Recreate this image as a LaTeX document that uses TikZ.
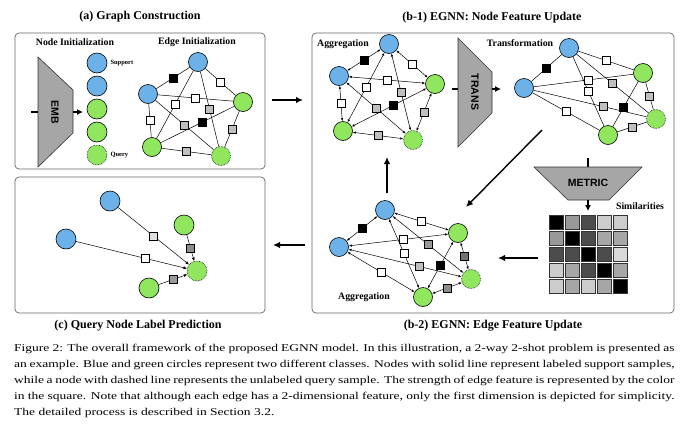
\documentclass[tikz,border=0pt]{standalone}
\usepackage{fontspec}
\usepackage{graphicx}
\setmainfont{Liberation Serif}
\newfontfamily\arialfont{Liberation Sans}
\usetikzlibrary{arrows.meta,positioning}
\definecolor{nodeblue}{HTML}{6CB2E8}
\definecolor{nodegreen}{HTML}{90E65E}
\newcommand{\capline}[1]{\makebox[508pt][s]{#1}}
\tikzstyle{bluenode}=[circle, draw, fill=nodeblue, minimum size=19pt, inner sep=0pt, line width=0.6pt]
\tikzstyle{greennode}=[circle, draw, fill=nodegreen, minimum size=19pt, inner sep=0pt, line width=0.6pt]
\tikzstyle{querynode}=[circle, draw, densely dotted, fill=nodegreen, minimum size=19pt, inner sep=0pt, line width=0.6pt]
\tikzstyle{whitesq}=[rectangle, draw, fill=white, minimum size=8pt, inner sep=0pt, line width=0.5pt, solid]
\tikzstyle{blacksq}=[whitesq, fill=black]
\tikzstyle{graysq}=[whitesq, fill=black!25]
\tikzstyle{plainedge}=[line width=0.5pt]
\tikzstyle{aggedge}=[{Latex[length=3pt,width=2.4pt]}-{Latex[length=3pt,width=2.4pt]}, line width=0.5pt]
\tikzstyle{prededge}=[-{Latex[length=3.5pt,width=3pt]}, line width=0.5pt]
\tikzstyle{panel}=[draw=black!60, rounded corners=4pt, line width=0.7pt]
\tikzstyle{trapblock}=[draw=black!80, fill=black!35, line width=0.6pt]
\tikzstyle{blocktext}=[font=\arialfont\bfseries\fontsize{10.5}{12}\selectfont, inner sep=0pt]
\tikzstyle{paneltitle}=[font=\bfseries\fontsize{12}{14}\selectfont]
\tikzstyle{subtitle}=[font=\bfseries\fontsize{9.8}{12}\selectfont, inner sep=0pt]
\tikzstyle{tinylabel}=[font=\bfseries\fontsize{6.5}{8}\selectfont, inner sep=0pt]
\tikzstyle{midarrow}=[-{Latex[length=6pt,width=6pt]}, line width=1.1pt]
\tikzstyle{bigarrow}=[-{Latex[length=7pt,width=6.5pt]}, line width=1.4pt]
\tikzstyle{caption}=[inner sep=0pt, align=left]

\begin{document}
\begin{tikzpicture}[x=1pt, y=-1pt, every node/.style={font=\normalsize}]
\path[use as bounding box] (0,0) rectangle (697,429);

% panels and titles
\draw[panel] (15,33) rectangle (265,169);
\draw[panel] (15,177) rectangle (265,313);
\draw[panel] (312,33) rectangle (674,313);
\node[paneltitle] (title-a) at (140,17) {(a) Graph Construction};
\node[paneltitle] (title-b1) at (492,18) {(b-1) EGNN: Node Feature Update};
\node[paneltitle] (title-c) at (138,326) {(c) Query Node Label Prediction};
\node[paneltitle] (title-b2) at (493,326) {(b-2) EGNN: Edge Feature Update};

%% (a) node initialization
\node[subtitle] (lbl-node) at (75,42) {Node Initialization};
\node[subtitle] (lbl-edge) at (197,42) {Edge Initialization};
\draw[trapblock] (38,57) -- (73,90) -- (73,133) -- (38,167) -- cycle;
\node[blocktext, rotate=-90] (emb) at (55,112) {EMB};
\coordinate (emb-in) at (31,112);
\coordinate (emb-w) at (38,112);
\coordinate (emb-e) at (73,112);
\coordinate (emb-out) at (83,112);
\draw[line width=1.1pt] (emb-in) -- (emb-w);
\draw[midarrow] (emb-e) -- (emb-out);

\node[bluenode, minimum size=20pt] (init1) at (97,63) {};
\node[bluenode, minimum size=20pt] (init2) at (97,86) {};
\node[greennode, minimum size=20pt] (init3) at (97,109) {};
\node[greennode, minimum size=20pt] (init4) at (97,132) {};
\node[querynode, minimum size=20pt] (init5) at (97,155) {};
\node[tinylabel, right=3pt of init1] (lbl-sup) {Support};
\node[tinylabel, right=3pt of init5] (lbl-qry) {Query};

%% (a) edge initialization
\node[bluenode] (a-t) at (198,62) {};
\node[bluenode] (a-l) at (148,94) {};
\node[greennode] (a-r) at (243,102) {};
\node[greennode] (a-bl) at (152,147) {};
\node[querynode] (a-br) at (221,156) {};
\draw[plainedge] (a-t) -- node[blacksq] {} (a-l);
\draw[plainedge] (a-t) -- node[whitesq] {} (a-r);
\draw[plainedge] (a-l) -- node[whitesq] {} (a-r);
\draw[plainedge] (a-t) -- node[whitesq] {} (a-bl);
\draw[plainedge] (a-t) -- node[graysq] {} (a-br);
\draw[plainedge] (a-l) -- node[whitesq] {} (a-bl);
\draw[plainedge] (a-l) -- node[graysq] {} (a-br);
\draw[plainedge] (a-bl) -- node[blacksq, pos=0.56] {} (a-r);
\draw[plainedge] (a-r) -- node[graysq] {} (a-br);
\draw[plainedge] (a-bl) -- node[graysq] {} (a-br);

\coordinate (a-out) at (272,100);
\coordinate (b-in) at (303,100);
\draw[bigarrow] (a-out) -- (b-in);

%% (b-1) aggregation
\node[subtitle] (lbl-agg1) at (343,44) {Aggregation};
\node[bluenode] (b1-t) at (389,44) {};
\node[bluenode] (b1-l) at (339,76) {};
\node[greennode] (b1-r) at (435,84) {};
\node[greennode] (b1-bl) at (343,131) {};
\node[querynode] (b1-br) at (413,140) {};
\draw[aggedge] (b1-t) -- node[blacksq] {} (b1-l);
\draw[aggedge] (b1-t) -- node[whitesq] {} (b1-r);
\draw[aggedge] (b1-l) -- node[whitesq] {} (b1-r);
\draw[aggedge] (b1-t) -- node[whitesq] {} (b1-bl);
\draw[aggedge] (b1-t) -- node[graysq] {} (b1-br);
\draw[aggedge] (b1-l) -- node[whitesq] {} (b1-bl);
\draw[aggedge] (b1-l) -- node[graysq] {} (b1-br);
\draw[aggedge] (b1-bl) -- node[blacksq, pos=0.56] {} (b1-r);
\draw[aggedge] (b1-r) -- node[graysq] {} (b1-br);
\draw[aggedge] (b1-bl) -- node[graysq] {} (b1-br);

%% (b-1) transformation
\draw[trapblock] (458,38) -- (492,72) -- (492,113) -- (458,147) -- cycle;
\node[blocktext, rotate=-90] (trans) at (475,92) {TRANS};
\coordinate (trans-in) at (452,89);
\coordinate (trans-w) at (458,89);
\coordinate (trans-e) at (492,89);
\coordinate (trans-out) at (501,89);
\draw[line width=1.1pt] (trans-in) -- (trans-w);
\draw[midarrow] (trans-e) -- (trans-out);

\node[subtitle] (lbl-trans) at (520,43) {Transformation};
\node[bluenode] (tr-t) at (569,48) {};
\node[bluenode] (tr-l) at (524,88) {};
\node[greennode] (tr-r) at (643,73) {};
\node[querynode] (tr-br) at (656,119) {};
\node[greennode] (tr-b) at (608,135) {};
\draw[plainedge] (tr-t) -- node[blacksq] {} (tr-l);
\draw[plainedge] (tr-t) -- node[whitesq] {} (tr-r);
\draw[plainedge] (tr-l) -- node[whitesq, pos=0.55] {} (tr-r);
\draw[plainedge] (tr-t) -- node[whitesq] {} (tr-b);
\draw[plainedge] (tr-t) -- node[graysq] {} (tr-br);
\draw[plainedge] (tr-l) -- node[whitesq] {} (tr-b);
\draw[plainedge] (tr-l) -- node[graysq, pos=0.62] {} (tr-br);
\draw[plainedge] (tr-b) -- node[blacksq, pos=0.43] {} (tr-r);
\draw[plainedge] (tr-r) -- node[graysq] {} (tr-br);
\draw[plainedge] (tr-b) -- node[graysq] {} (tr-br);

\coordinate (diag-from) at (542,130);
\coordinate (diag-to) at (466,207);
\draw[bigarrow] (diag-from) -- (diag-to);

%% metric and similarities
\coordinate (metric-in) at (588,158);
\coordinate (metric-n) at (588,167);
\draw[line width=1.1pt] (metric-in) -- (metric-n);
\draw[trapblock] (534,167) -- (642,167) -- (609,200) -- (568,200) -- cycle;
\node[blocktext] (metric) at (588,183) {METRIC};
\coordinate (metric-s) at (588,200);
\coordinate (metric-out) at (588,211);
\draw[midarrow] (metric-s) -- (metric-out);
\node[subtitle] (lbl-sim) at (640,206) {Similarities};

\foreach \r/\vals in {1/{100,40,70,20,20}, 2/{40,100,70,35,35}, 3/{70,70,100,70,15}, 4/{20,35,70,100,35}, 5/{20,35,20,35,100}} {
  \foreach \v [count=\c] in \vals {
    \node[rectangle, draw=black!80, line width=0.4pt, fill=black!\v, minimum size=14pt, inner sep=0pt] (sim-\r-\c) at (540+16*\c, 206+16*\r) {};
  }
}
\coordinate (sim-out) at (538,258);
\coordinate (b2-in) at (498,258);
\draw[bigarrow] (sim-out) -- (b2-in);

%% (b-2) aggregation
\node[bluenode] (b2-t) at (385,210) {};
\node[bluenode] (b2-l) at (339,247) {};
\node[greennode] (b2-r) at (458,233) {};
\node[querynode] (b2-br) at (471,279) {};
\node[greennode] (b2-b) at (423,297) {};
\node[subtitle] (lbl-agg2) at (364,297) {Aggregation};
\draw[aggedge] (b2-t) -- node[blacksq] {} (b2-l);
\draw[aggedge] (b2-t) -- node[whitesq] {} (b2-r);
\draw[aggedge] (b2-l) -- node[whitesq, pos=0.55] {} (b2-r);
\draw[aggedge] (b2-t) -- node[whitesq] {} (b2-b);
\draw[aggedge] (b2-t) -- node[graysq, fill=black!40] {} (b2-br);
\draw[aggedge] (b2-l) -- node[whitesq] {} (b2-b);
\draw[aggedge] (b2-l) -- node[graysq, pos=0.63] {} (b2-br);
\draw[aggedge] (b2-b) -- node[blacksq] {} (b2-r);
\draw[aggedge] (b2-r) -- node[graysq, fill=black!55] {} (b2-br);
\draw[aggedge] (b2-b) -- node[graysq, fill=black!45] {} (b2-br);

\coordinate (b2-up) at (387,193);
\coordinate (b1-down) at (387,157);
\draw[bigarrow] (b2-up) -- (b1-down);

\coordinate (b-out) at (305,245);
\coordinate (c-in) at (273,245);
\draw[bigarrow] (b-out) -- (c-in);

%% (c) query node label prediction
\node[bluenode, minimum size=20pt] (c-b1) at (110,201) {};
\node[bluenode, minimum size=20pt] (c-b2) at (66,239) {};
\node[greennode, minimum size=20pt] (c-g1) at (184,225) {};
\node[querynode, minimum size=20pt] (c-q) at (197,271) {};
\node[greennode, minimum size=20pt] (c-g2) at (149,288) {};
\draw[prededge] (c-b1) -- node[graysq, fill=black!12] {} (c-q);
\draw[prededge] (c-b2) -- node[whitesq, pos=0.62] {} (c-q);
\draw[prededge] (c-g1) -- node[graysq, fill=black!45] {} (c-q);
\draw[prededge] (c-g2) -- node[graysq, fill=black!40] {} (c-q);

%% caption
\node[caption, anchor=north west] (caption) at (14,344) {\scalebox{1.3}[1]{\parbox[t]{508pt}{\fontsize{10.4}{16}\selectfont
\capline{Figure 2: The overall framework of the proposed EGNN model. In this illustration, a 2-way 2-shot problem is presented as}\\
\capline{an example. Blue and green circles represent two different classes. Nodes with solid line represent labeled support samples,}\\
\capline{while a node with dashed line represents the unlabeled query sample. The strength of edge feature is represented by the color}\\
\capline{in the square. Note that although each edge has a 2-dimensional feature, only the first dimension is depicted for simplicity.}\\
The detailed process is described in Section 3.2.}}};

\end{tikzpicture}
\end{document}
